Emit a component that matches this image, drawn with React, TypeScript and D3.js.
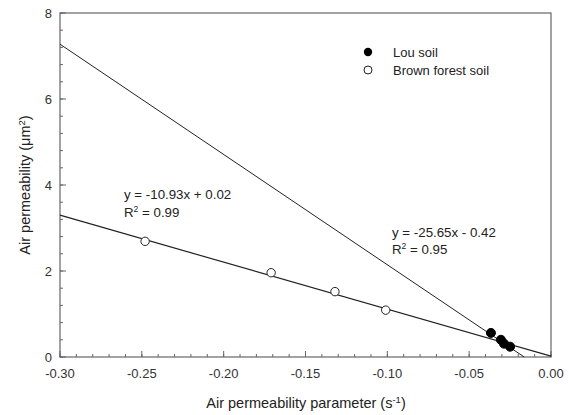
import React from "react";
import * as d3 from "d3";

const xTicks = [-0.3, -0.25, -0.2, -0.15, -0.1, -0.05, 0.0];
const yTicks = [0, 2, 4, 6, 8];
const brownX = [-0.248, -0.171, -0.132, -0.101];
const brownY = [2.69, 1.96, 1.52, 1.09];
const louX = [-0.0367, -0.0306, -0.0287, -0.025];
const louY = [0.56, 0.4, 0.31, 0.24];
const louFit = [-25.65, -0.42];
const brownFit = [-10.93, 0.02];

const W = 569, H = 415;
const M = { left: 60, right: 551, top: 13, bottom: 357 };

export default function App() {
  const x = d3.scaleLinear().domain([-0.3, 0]).range([M.left, M.right]);
  const y = d3.scaleLinear().domain([0, 8]).range([M.bottom, M.top]);
  const font = "'Liberation Sans', Arial, sans-serif";
  const axisColor = "#666";
  const xMinor = d3.range(-0.3, 0.0001, 0.01).map((v) => Math.round(v * 100) / 100);
  const yMinor = d3.range(0, 8.0001, 0.4).map((v) => Math.round(v * 10) / 10);
  const louXs = [-0.3, -louFit[1] / louFit[0]];
  const louPath = d3.line<number>().x((d) => x(d)).y((d) => y(louFit[0] * d + louFit[1]))(louXs);
  const brownPath = d3.line<number>().x((d) => x(d)).y((d) => y(brownFit[0] * d + brownFit[1]))([-0.3, 0]);
  return (
    <svg width={W} height={H} style={{ position: "absolute", left: 0, top: 0, background: "#fff" }} fontFamily={font}>
      <rect x={M.left} y={M.top} width={M.right - M.left} height={M.bottom - M.top} fill="none" stroke={axisColor} strokeWidth={1.2} />
      {xMinor.map((v, i) => (
        <line key={"xm" + i} x1={x(v)} x2={x(v)} y1={M.bottom} y2={M.bottom - 3} stroke={axisColor} />
      ))}
      {xTicks.map((v, i) => (
        <g key={"xt" + i}>
          <line x1={x(v)} x2={x(v)} y1={M.bottom} y2={M.bottom - 6} stroke={axisColor} />
          <text x={x(v)} y={378} textAnchor="middle" fontSize={13} fill="#333">{v.toFixed(2)}</text>
        </g>
      ))}
      {yMinor.map((v, i) => (
        <line key={"ym" + i} x1={M.left} x2={M.left + 3} y1={y(v)} y2={y(v)} stroke={axisColor} />
      ))}
      {yTicks.map((v, i) => (
        <g key={"yt" + i}>
          <line x1={M.left} x2={M.left + 6} y1={y(v)} y2={y(v)} stroke={axisColor} />
          <text x={52} y={y(v) + 4.5} textAnchor="end" fontSize={13} fill="#333">{v}</text>
        </g>
      ))}
      <path d={louPath ?? ""} stroke="#222" strokeWidth={1} fill="none" />
      <path d={brownPath ?? ""} stroke="#222" strokeWidth={1.2} fill="none" />
      {brownX.map((v, i) => (
        <circle key={"b" + i} cx={x(v)} cy={y(brownY[i])} r={4.2} fill="#fff" stroke="#222" strokeWidth={1} />
      ))}
      {louX.map((v, i) => (
        <circle key={"l" + i} cx={x(v)} cy={y(louY[i])} r={4.5} fill="#000" stroke="#000" />
      ))}
      <circle cx={368} cy={52} r={4.2} fill="#000" />
      <text x={393} y={56.5} fontSize={13} fill="#222">Lou soil</text>
      <circle cx={368} cy={70} r={4} fill="#fff" stroke="#222" />
      <text x={393} y={74.5} fontSize={13} fill="#222">Brown forest soil</text>
      <text x={124} y={199} fontSize={13.3} fill="#222">y = -10.93x + 0.02</text>
      <text x={124} y={217} fontSize={13.3} fill="#222">R<tspan dy={-5} fontSize={8.5}>2</tspan><tspan dy={5}> = 0.99</tspan></text>
      <text x={392} y={237} fontSize={13.3} fill="#222">y = -25.65x - 0.42</text>
      <text x={392} y={254} fontSize={13.3} fill="#222">R<tspan dy={-5} fontSize={8.5}>2</tspan><tspan dy={5}> = 0.95</tspan></text>
      <text x={306} y={408} textAnchor="middle" fontSize={14.5} fill="#222">Air permeability parameter (s<tspan dy={-5} fontSize={9.5}>-1</tspan><tspan dy={5}>)</tspan></text>
      <text transform={`translate(30,185) rotate(-90)`} textAnchor="middle" fontSize={14.5} fill="#222">Air permeability (μm<tspan dy={-5} fontSize={9.5}>2</tspan><tspan dy={5}>)</tspan></text>
    </svg>
  );
}
